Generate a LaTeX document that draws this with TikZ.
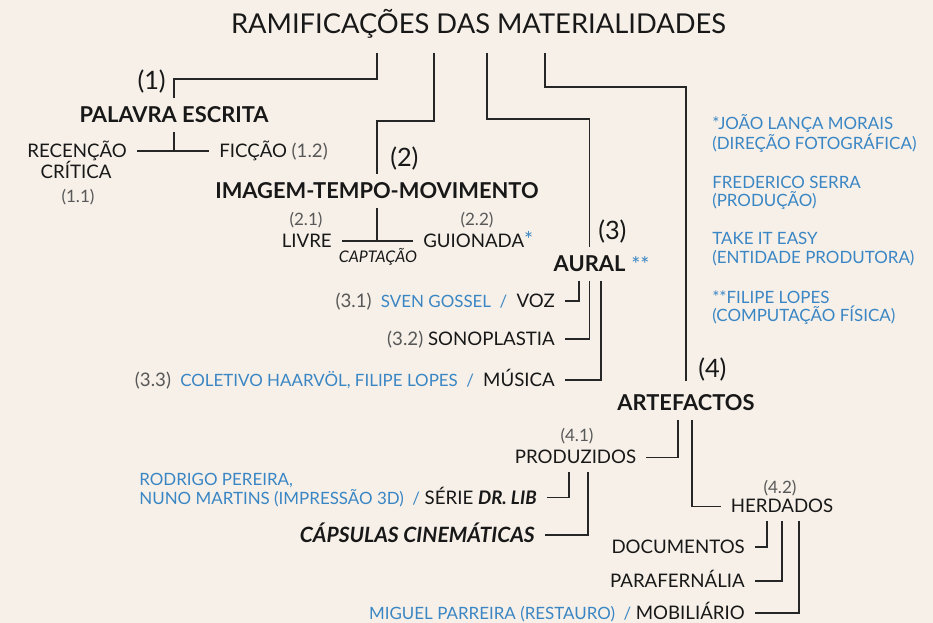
\documentclass[tikz,border=0pt]{standalone}
\usepackage{fontspec}
\setmainfont{Lato}
\usetikzlibrary{calc}
\definecolor{paper}{RGB}{246,240,232}
\definecolor{ink}{RGB}{24,24,24}
\definecolor{numgray}{RGB}{88,88,88}
\definecolor{credit}{RGB}{58,134,196}
\definecolor{wire}{RGB}{38,38,38}
\newcommand{\crd}[1]{{\fontsize{12.7}{15}\selectfont\color{credit}#1}}

\begin{document}
\begin{tikzpicture}[x=0.75pt, y=-0.75pt,
  link/.style={wire, line width=1.1pt},
  ttl/.style={font=\fontsize{20.5}{24}\selectfont, text=ink, inner sep=0pt},
  head/.style={font=\fontsize{16.4}{19}\selectfont\bfseries, text=ink, inner xsep=7.5pt, inner ysep=6.5pt, text height=11.75pt, text depth=0pt},
  lbl/.style={font=\fontsize{14}{17}\selectfont, text=ink, inner xsep=7.5pt, inner ysep=6pt, text height=10pt, text depth=0pt},
  knum/.style={font=\fontsize{19}{22}\selectfont, text=ink, inner sep=0pt},
  subnum/.style={font=\fontsize{12.8}{15}\selectfont, text=numgray, inner sep=0pt, text height=9.2pt, text depth=0pt},
  note/.style={font=\fontsize{12.7}{15}\selectfont, text=credit, inner sep=0pt, text height=9.1pt, text depth=0pt},
  hint/.style={font=\fontsize{12}{14}\selectfont\itshape, text=ink, inner sep=0pt, text height=8.6pt, text depth=0pt}]
  \useasboundingbox (0,0) rectangle (933,623);
  \fill[paper] (0,0) rectangle (933,623);

  % title and the four branches
  \node[ttl, anchor=base] (title) at (478.5,34) {RAMIFICAÇÕES DAS MATERIALIDADES};
  \coordinate (top1) at (377,53);
  \coordinate (top2) at (434,53);
  \coordinate (top3) at (487,53);
  \coordinate (top4) at (545,53);

  % (1) palavra escrita
  \node[head, anchor=base] (pal) at (174,123) {PALAVRA ESCRITA};
  \node[knum, anchor=south east] (n1) at (166,93) {(1)};
  \node[lbl, anchor=east] (rec) at (137,151) {RECENÇÃO};
  \node[lbl] (crit) at (76,172) {CRÍTICA};
  \node[subnum] (n11) at (78,196) {(1.1)};
  \node[lbl, anchor=west] (fic) at (209,151) {FICÇÃO \textcolor{numgray}{(1.2)}};
  \draw[link] (top1) -- ++(0,26) -| (pal.north);
  \draw[link] (pal.south) -- (pal.south |- rec.east);
  \draw[link] (rec.east) -- (fic.west);

  % (2) imagem-tempo-movimento
  \node[head, anchor=base] (img) at (377,199) {IMAGEM-TEMPO-MOVIMENTO};
  \node[knum, anchor=south west] (n2) at (390,170) {(2)};
  \node[subnum] (n21) at (306,219) {(2.1)};
  \node[subnum] (n22) at (477,219) {(2.2)};
  \node[lbl, anchor=east] (liv) at (342,241) {LIVRE};
  \node[lbl, anchor=west] (gui) at (413,241) {GUIONADA{\fontsize{16}{18}\selectfont\textcolor{credit}{*}}};
  \node[hint] (capt) at (378,256.5) {CAPTAÇÃO};
  \draw[link] (top2) -- ++(0,68) -| (img.north);
  \draw[link] (img.south) -- (img.south |- liv.east);
  \draw[link] (liv.east) -- (gui.west);

  % (3) aural
  \node[head, anchor=base] (aur) at (589.5,272) {AURAL};
  \node[note, anchor=base west, font=\fontsize{16}{18}\selectfont] (aurst) at (631,273) {**};
  \node[knum, anchor=south west] (n3) at (598,243) {(3)};
  \node[lbl, anchor=east] (voz) at (565,301)
    {\textcolor{numgray}{(3.1)}\enspace\crd{SVEN GOSSEL\enspace/}\enspace VOZ};
  \node[lbl, anchor=east] (son) at (565,339) {\textcolor{numgray}{(3.2)} SONOPLASTIA};
  \node[lbl, anchor=east] (mus) at (565,380)
    {\textcolor{numgray}{(3.3)}\enspace\crd{COLETIVO HAARVÖL, FILIPE LOPES\enspace/}\enspace MÚSICA};
  \draw[link] (top3) -- ++(0,66) -| (aur.north);
  \draw[link] ($(aur.south)+(-10.5,0)$) |- (voz.east);
  \draw[link] (aur.south) |- (son.east);
  \draw[link] ($(aur.south)+(11.5,0)$) |- (mus.east);

  % (4) artefactos
  \node[head, anchor=base] (art) at (686,411) {ARTEFACTOS};
  \node[knum, anchor=south west] (n4) at (698,381) {(4)};
  \node[lbl, anchor=base] (prod) at (575.5,464) {PRODUZIDOS};
  \node[subnum] (n41) at (577,435) {(4.1)};
  \node[lbl, anchor=base] (her) at (782,513) {HERDADOS};
  \node[subnum] (n42) at (780,487) {(4.2)};
  \draw[link] (top4) -- ++(0,34) -| (art.north |- n4.south);
  \draw[link] ($(art.south)+(-8,0)$) |- (prod.east);
  \draw[link] ($(art.south)+(6,0)$) |- (her.west);

  % produzidos
  \node[lbl, anchor=east] (lib) at (547,497.5)
    {\crd{NUNO MARTINS (IMPRESSÃO 3D)\enspace/} SÉRIE \textbf{\textit{DR. LIB}}};
  \node[note, anchor=west, inner xsep=7.5pt] (rod) at (lib.west |- 0,479) {RODRIGO PEREIRA,};
  \node[head, anchor=east, font=\fontsize{15.8}{18}\selectfont\bfseries\itshape] (caps) at (545,535) {CÁPSULAS CINEMÁTICAS};
  \draw[link] ($(prod.south)+(-6.5,0)$) |- (lib.east);
  \draw[link] ($(prod.south)+(12.5,0)$) |- (caps.east);

  % herdados
  \node[lbl, anchor=east] (doc) at (755,547) {DOCUMENTOS};
  \node[lbl, anchor=east] (par) at (755,581) {PARAFERNÁLIA};
  \node[lbl, anchor=east] (mob) at (755,613)
    {\crd{MIGUEL PARREIRA (RESTAURO)\enspace/} MOBILIÁRIO};
  \draw[link] ($(her.south)+(-15,0)$) |- (doc.east);
  \draw[link] (her.south) |- (par.east);
  \draw[link] ($(her.south)+(17,0)$) |- (mob.east);

  % credits
  \node[note, anchor=west] (cr1a) at (712,123) {*JOÃO LANÇA MORAIS};
  \node[note, anchor=west] (cr1b) at (712,143) {(DIREÇÃO FOTOGRÁFICA)};
  \node[note, anchor=west] (cr2a) at (712,182) {FREDERICO SERRA};
  \node[note, anchor=west] (cr2b) at (712,200) {(PRODUÇÃO)};
  \node[note, anchor=west] (cr3a) at (712,238) {TAKE IT EASY};
  \node[note, anchor=west] (cr3b) at (712,257) {(ENTIDADE PRODUTORA)};
  \node[note, anchor=west] (cr4a) at (712,297) {**FILIPE LOPES};
  \node[note, anchor=west] (cr4b) at (712,315) {(COMPUTAÇÃO FÍSICA)};
\end{tikzpicture}
\end{document}
